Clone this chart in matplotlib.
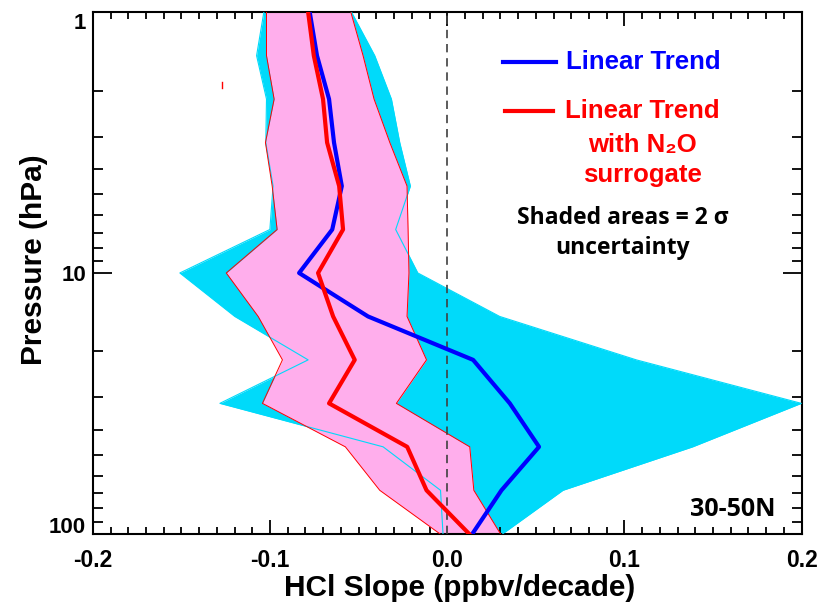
import matplotlib
matplotlib.use('Agg')
import matplotlib.pyplot as plt
import matplotlib.transforms as mtransforms
from matplotlib.ticker import MultipleLocator, LogLocator, FixedFormatter, FixedLocator, NullFormatter

# Pressure levels (hPa), 6 per decade
pressure = [1.0, 1.468, 2.154, 3.162, 4.642, 6.813, 10.0, 14.68, 21.54, 31.62, 46.42, 68.13, 100.0]

# Linear trend and its 2 sigma range
trend = [-0.0776, -0.0735, -0.0667, -0.0639, -0.0595, -0.0649, -0.0836,
         -0.0447, 0.0146, 0.0353, 0.0518, 0.0306, 0.0142]
trend_lo = [-0.1035, -0.1076, -0.1020, -0.1024, -0.0983, -0.1001, -0.1509,
            -0.1199, -0.0785, -0.1283, -0.0362, -0.0038, -0.0024]
trend_hi = [-0.0540, -0.0409, -0.0315, -0.0268, -0.0208, -0.0291, -0.0166,
            0.0296, 0.1067, 0.1998, 0.1385, 0.0653, 0.0313]

# Linear trend with N2O surrogate and its 2 sigma range
n2o = [-0.0785, -0.0753, -0.0701, -0.0678, -0.0610, -0.0588, -0.0729,
       -0.0644, -0.0522, -0.0667, -0.0226, -0.0117, 0.0123]
n2o_lo = [-0.1020, -0.1020, -0.0977, -0.1026, -0.0988, -0.0960, -0.1247,
          -0.1067, -0.0930, -0.1043, -0.0575, -0.0381, -0.0042]
n2o_hi = [-0.0544, -0.0475, -0.0413, -0.0324, -0.0227, -0.0221, -0.0216,
          -0.0227, -0.0117, -0.0287, 0.0127, 0.0150, 0.0300]

# stray red mark in the original figure
stray_x = [-0.1272, -0.1272]
stray_p = [1.86, 1.96]

xticks = [-0.2, -0.1, 0.0, 0.1, 0.2]
xticklabels = ['-0.2', '-0.1', '0.0', '0.1', '0.2']
yticks = [1, 10, 100]
yticklabels = ['1', '10', '100']

CYAN = '#00DAFA'
PINK = '#FFAEEC'
BOLD = ['Liberation Sans', 'DejaVu Sans']
SANS2 = ['Open Sans', 'DejaVu Sans']

plt.rcParams['font.family'] = BOLD
plt.rcParams['font.weight'] = 'bold'

fig = plt.figure(figsize=(8.29, 6.10), dpi=100)
ax = fig.add_axes([0.112, 0.125, 0.855, 0.855])

# shaded uncertainty areas
ax.fill_betweenx(pressure, trend_lo, trend_hi, color=CYAN, lw=0, zorder=1)
ax.fill_betweenx(pressure, n2o_lo, n2o_hi, color=PINK, lw=0, zorder=2)
ax.plot(trend_lo, pressure, color=CYAN, lw=0.8, zorder=3)
ax.plot(trend_hi, pressure, color=CYAN, lw=0.8, zorder=3)
ax.plot(n2o_lo, pressure, color='red', lw=0.7, zorder=4)
ax.plot(n2o_hi, pressure, color='red', lw=0.7, zorder=4)

ax.axvline(0.0, color='0.25', lw=1.2, ls=(0, (5, 3.5)), zorder=5)

ax.plot(trend, pressure, color='#0000FF', lw=3, zorder=6)
ax.plot(n2o, pressure, color='#FF0000', lw=3, zorder=7)
ax.plot(stray_x, stray_p, color='red', lw=1, zorder=7)

ax.set_yscale('log')
ax.set_ylim(100, 1)
ax.set_xlim(-0.2, 0.2)

ax.xaxis.set_major_locator(FixedLocator(xticks))
ax.xaxis.set_major_formatter(FixedFormatter(xticklabels))
ax.xaxis.set_minor_locator(MultipleLocator(0.01))
ax.yaxis.set_major_locator(FixedLocator(yticks))
ax.yaxis.set_major_formatter(FixedFormatter(yticklabels))
ax.yaxis.set_minor_locator(LogLocator(base=10, subs=range(2, 10)))
ax.yaxis.set_minor_formatter(NullFormatter())

ax.tick_params(which='both', direction='in', top=True, right=True, width=1.3, color='black')
ax.tick_params(axis='x', which='major', length=10, labelsize=16.5, pad=11)
ax.tick_params(axis='x', which='minor', length=5)
ax.tick_params(axis='y', which='major', length=14, labelsize=16, pad=5)
ax.tick_params(axis='y', which='minor', length=7)
for lab in ax.get_xticklabels() + ax.get_yticklabels():
    lab.set_fontweight('bold')

# IDL-style: end labels sit inside the axis range
ylabs = ax.get_yticklabels()
ylabs[0].set_transform(ylabs[0].get_transform() + mtransforms.ScaledTranslation(0, -6 / 72, fig.dpi_scale_trans))
ylabs[2].set_transform(ylabs[2].get_transform() + mtransforms.ScaledTranslation(0, 6 / 72, fig.dpi_scale_trans))

for sp in ax.spines.values():
    sp.set_linewidth(1.5)

ax.set_xlabel('HCl Slope (ppbv/decade)', fontsize=21.5, fontweight='bold')
ax.set_ylabel('Pressure (hPa)', fontsize=21.5, fontweight='bold')
ax.xaxis.set_label_coords(0.517, -0.078)
ax.yaxis.set_label_coords(-0.063, 0.525)

# legend
ax.plot([0.578, 0.653], [0.904, 0.904], transform=ax.transAxes, color='#0000FF', lw=3, zorder=8)
ax.plot([0.581, 0.649], [0.810, 0.810], transform=ax.transAxes, color='#FF0000', lw=3, zorder=8)
ax.text(0.667, 0.904, 'Linear Trend', transform=ax.transAxes, color='#0000FF',
        fontsize=18.5, fontweight='bold', va='center', ha='left')
ax.text(0.666, 0.810, 'Linear Trend', transform=ax.transAxes, color='#FF0000',
        fontsize=18.5, fontweight='bold', va='center', ha='left')
ax.text(0.776, 0.745, 'with N\u2082O', transform=ax.transAxes, color='#FF0000',
        fontsize=18.5, fontweight='bold', va='center', ha='center')
ax.text(0.776, 0.688, 'surrogate', transform=ax.transAxes, color='#FF0000',
        fontsize=18.5, fontweight='bold', va='center', ha='center')
ax.text(0.748, 0.605, 'Shaded areas = 2 \u03c3', transform=ax.transAxes, color='black',
        fontsize=16.5, fontweight='bold', va='center', ha='center', family=SANS2)
ax.text(0.748, 0.548, 'uncertainty', transform=ax.transAxes, color='black',
        fontsize=16.5, fontweight='bold', va='center', ha='center', family=SANS2)
ax.text(0.903, 0.046, '30-50N', transform=ax.transAxes, color='black',
        fontsize=18, fontweight='bold', va='center', ha='center', family=SANS2)

fig.savefig('out.png', dpi=100)
